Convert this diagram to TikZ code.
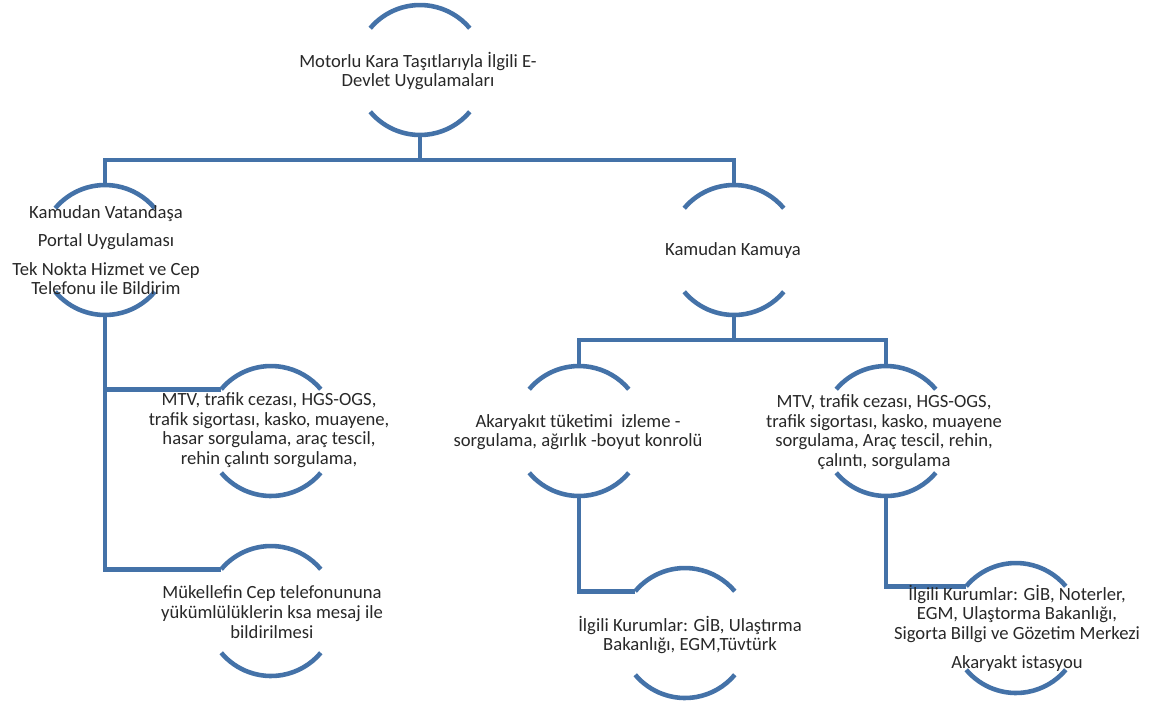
\documentclass[tikz,border=0pt]{standalone}
\usepackage{fontspec}
\setmainfont{Carlito}
\usetikzlibrary{positioning,calc}
\definecolor{myblue}{RGB}{68,114,168}
\definecolor{mytext}{RGB}{40,40,40}

\begin{document}
\begin{tikzpicture}[x=0.02cm,y=-0.02cm,
    every node/.style={inner sep=0pt,outer sep=0pt},
    ring/.style={circle,minimum size=2.6cm},
    txt/.style={align=center,text=mytext,font=\fontsize{10.6}{11.2}\selectfont},
    conn/.style={myblue,line width=2.6pt},
    halfarc/.style={myblue,line width=2.6pt}
  ]
  \useasboundingbox (0,0) rectangle (1153,701);

  % the rings
  \foreach \n/\x/\y in {root/420/70,citizen/105/250,public/734/250,
      mtvL/271/431,smsL/271/611,fuel/579/431,mtvR/886/431,
      instL/685/633,instR/1016/628}
    \node[ring] (\n) at (\x,\y) {};

  % the arcs above and below
  \foreach \n in {root,citizen,public,mtvL,smsL,fuel,mtvR,instL,instR}{
    \draw[halfarc] (\n.140) arc[start angle=140,end angle=40,radius=1.3cm];
    \draw[halfarc] (\n.220) arc[start angle=220,end angle=320,radius=1.3cm];
  }

  % the edges
  \coordinate (topbus) at ($(root.south)+(0,25)$);
  \draw[conn] (root.south) -- (topbus);
  \draw[conn] (citizen.north) |- (topbus) -| (public.north);
  \draw[conn] (citizen.south) |- (mtvL.140);
  \draw[conn] (citizen.south) |- (smsL.140);
  \coordinate (midbus) at ($(public.south)+(0,25)$);
  \draw[conn] (public.south) -- (midbus);
  \draw[conn] (fuel.north) |- (midbus) -| (mtvR.north);
  \draw[conn] (fuel.south) |- (instL.140);
  \draw[conn] (mtvR.south) |- (instR.140);

  % the texts
  \node[txt] (rootText) at (418,71) {Motorlu Kara Taşıtlarıyla İlgili E-\\Devlet Uygulamaları};
  \node[txt] (citizenText) at (106,250) {Kamudan Vatandaşa\\[5pt]Portal Uygulaması\\[5pt]Tek Nokta Hizmet ve Cep\\Telefonu ile Bildirim};
  \node[txt] (publicText) at (733,251) {Kamudan Kamuya};
  \node[txt] (mtvLText) at (269,430) {MTV, trafik cezası, HGS-OGS,\\trafik sigortası, kasko, muayene,\\hasar sorgulama, araç tescil,\\rehin çalıntı sorgulama,};
  \node[txt] (smsLText) at (272,612) {Mükellefin Cep telefonununa\\yükümlülüklerin ksa mesaj ile\\bildirilmesi};
  \node[txt] (fuelText) at (578,432) {Akaryakıt tüketimi\ \ izleme -\\sorgulama, ağırlık -boyut konrolü};
  \node[txt] (mtvRText) at (884,432) {MTV, trafik cezası, HGS-OGS,\\trafik sigortası, kasko, muayene\\sorgulama, Araç tescil, rehin,\\çalıntı, sorgulama};
  \node[txt] (instLText) at (690,635) {İlgili Kurumlar: GİB, Ulaştırma\\Bakanlığı, EGM,Tüvtürk};
  \node[txt] (instRText) at (1017,628) {İlgili Kurumlar: GİB, Noterler,\\EGM,\ Ulaştorma Bakanlığı,\\Sigorta Billgi ve Gözetim Merkezi\\[5pt]Akaryakt istasyou};
\end{tikzpicture}
\end{document}
